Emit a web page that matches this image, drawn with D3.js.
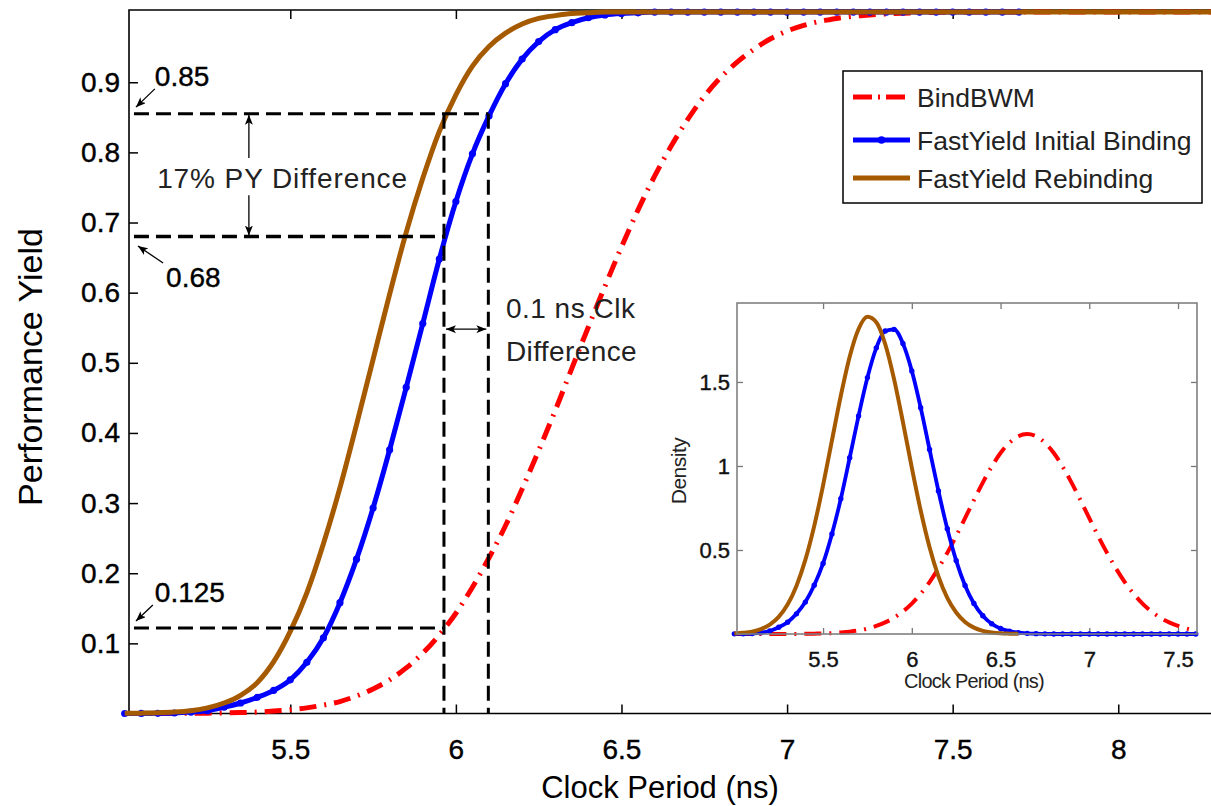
<!DOCTYPE html>
<html><head><meta charset="utf-8">
<script src="https://cdn.jsdelivr.net/npm/d3@7"></script>
<style>
html,body{margin:0;padding:0;background:#fff;}
svg{display:block;}
</style></head><body>
<svg id="chart" width="1211" height="806"></svg>
<script>
// ---------- main plot data (CDF, performance yield) ----------
const mainX = [5.00,5.05,5.10,5.15,5.20,5.25,5.30,5.35,5.40,5.45,5.50,5.55,5.60,5.65,5.70,5.75,5.80,5.85,5.90,5.95,
  6.00,6.05,6.10,6.15,6.20,6.25,6.30,6.35,6.40,6.45,6.50,6.55,6.60,6.65,6.70,6.75,6.80,6.85,6.90,6.95,
  7.00,7.05,7.10,7.15,7.20,7.25,7.30,7.35,7.40,7.45,7.50,7.55,7.60,7.65,7.70,7.75,7.80,7.85,7.90,7.95,
  8.00,8.05,8.10,8.15,8.20,8.25,8.30];
const bindBWM = [0,0,0.0001,0.0002,0.0003,0.0005,0.0008,0.0013,0.0021,0.0034,0.0053,0.008,0.012,0.017,0.025,0.035,0.048,0.065,0.086,0.112,
  0.143,0.180,0.222,0.268,0.320,0.375,0.432,0.492,0.551,0.609,0.665,0.718,0.766,0.809,0.847,0.880,0.907,0.929,0.947,0.962,
  0.973,0.981,0.987,0.991,0.994,0.996,0.9975,0.9985,0.999,0.9995,1,1,1,1,1,1,1,1,1,1,
  1,1,1,1,1,1,1];
const fastInitial = [0,0.0001,0.0003,0.0007,0.002,0.004,0.009,0.015,0.023,0.033,0.048,0.073,0.108,0.158,0.220,0.293,0.376,0.465,0.556,0.648,
  0.730,0.798,0.852,0.898,0.933,0.958,0.975,0.985,0.992,0.996,0.998,0.999,1,1,1,1,1,1,1,1,
  1,1,1,1,1,1,1,1,1,1,1,1,1,1,1,null,null,null,null,null,
  null,null,null,null,null,null,null];
const fastRebinding = [0.0002,0.0005,0.001,0.002,0.004,0.008,0.015,0.026,0.044,0.074,0.117,0.172,0.242,0.322,0.412,0.505,0.598,0.686,0.763,0.830,
  0.882,0.923,0.951,0.970,0.983,0.991,0.995,0.998,0.999,1,1,1,1,1,1,1,1,1,1,1,
  1,1,1,1,1,1,1,1,1,1,1,1,1,1,1,1,1,1,1,1,
  1,1,1,1,1,1,1];
const xTicks = [5.5, 6, 6.5, 7, 7.5, 8];
const yTicks = [0.1, 0.2, 0.3, 0.4, 0.5, 0.6, 0.7, 0.8, 0.9];

// ---------- inset data (density) ----------
const insetX = [5.00,5.05,5.10,5.15,5.20,5.25,5.30,5.35,5.40,5.45,5.50,5.55,5.60,5.65,5.70,5.75,5.80,5.85,5.90,5.95,
  6.00,6.05,6.10,6.15,6.20,6.25,6.30,6.35,6.40,6.45,6.50,6.55,6.60,6.65,6.70,6.75,6.80,6.85,6.90,6.95,
  7.00,7.05,7.10,7.15,7.20,7.25,7.30,7.35,7.40,7.45,7.50,7.55,7.60];
const insetBindBWM = [0,0,0,0,0,0,0,0,0.001,0.002,0.003,0.005,0.009,0.014,0.021,0.032,0.048,0.069,0.097,0.134,
  0.181,0.239,0.309,0.391,0.483,0.583,0.689,0.797,0.901,0.996,1.077,1.138,1.177,1.190,1.177,1.138,1.077,0.996,0.901,0.797,
  0.689,0.583,0.483,0.391,0.309,0.239,0.181,0.134,0.097,0.069,0.048,0.032,0.021];
const insetInitial = [0.001,0.001,0.003,0.008,0.018,0.040,0.070,0.120,0.190,0.290,0.420,0.595,0.805,1.049,1.298,1.526,1.703,1.803,1.813,1.729,
  1.566,1.347,1.098,0.851,0.626,0.437,0.289,0.182,0.109,0.061,0.033,0.017,0.008,0.004,0.002,0.001,0,0,0,0,
  0,0,0,0,0,0,0,0,0,0,0,0,0];
const insetRebinding = [0.003,0.007,0.014,0.029,0.056,0.102,0.175,0.286,0.441,0.642,0.885,1.152,1.418,1.650,1.815,1.888,1.856,1.726,1.517,1.261,
  0.990,0.735,0.516,0.343,0.215,0.128,0.072,0.038,0.019,0.009,0.004,0.002,0.001,null,null,null,null,null,null,null,
  null,null,null,null,null,null,null,null,null,null,null,null,null];
const insetXTicks = [5.5, 6, 6.5, 7, 7.5];
const insetYTicks = [0.5, 1, 1.5];

const seriesNames = ["BindBWM", "FastYield Initial Binding", "FastYield Rebinding"];
const seriesColors = ["#ff0000", "#0000ff", "#a65a00"];

// annotation values
const pyLines = [0.855, 0.68, 0.122];
const pyLabels = ["0.85", "0.68", "0.125"];
const clkLines = [5.964, 6.098];

// ---------- drawing ----------
const svg = d3.select("#chart");
const FONT = "'Liberation Sans', Arial, Helvetica, sans-serif";

const x = d3.scaleLinear([5.013, 8.28], [129, 1211]);
const y = d3.scaleLinear([0, 1.003], [713.5, 10]);

const defs = svg.append("defs");
defs.append("marker").attr("id", "ah").attr("viewBox", "0 0 10 8")
  .attr("refX", 10).attr("refY", 4).attr("markerWidth", 10).attr("markerHeight", 8)
  .attr("markerUnits", "userSpaceOnUse").attr("orient", "auto-start-reverse")
  .append("path").attr("d", "M0,0 L10,4 L0,8 L2.5,4 Z").attr("fill", "#000");

// axes
const gx = svg.append("g").attr("transform", `translate(0,${y(0)})`)
  .call(d3.axisBottom(x).tickValues(xTicks).tickFormat(d3.format("~g")).tickSizeInner(-9).tickSizeOuter(0).tickPadding(26));
const gy = svg.append("g").attr("transform", `translate(${x.range()[0]},0)`)
  .call(d3.axisLeft(y).tickValues(yTicks).tickFormat(d3.format(".1f")).tickSizeInner(-9).tickSizeOuter(0).tickPadding(9));
const gxt = svg.append("g").attr("transform", `translate(0,${y.range()[1]})`)
  .call(d3.axisTop(x).tickValues(xTicks).tickFormat("").tickSizeInner(-9).tickSizeOuter(0));
[gx, gy, gxt].forEach(g => {
  g.select(".domain").remove();
  g.selectAll(".tick line").attr("stroke", "#000").attr("stroke-width", 1.5);
  g.selectAll("text").attr("font-family", FONT).attr("font-size", 28).attr("fill", "#000")
    .attr("stroke", "#000").attr("stroke-width", 0.4);
});
// frame lines
svg.append("path")
  .attr("d", `M${x.range()[1]},${y.range()[1]} H${x.range()[0]} V${y(0)} H${x.range()[1]}`)
  .attr("fill", "none").attr("stroke", "#000").attr("stroke-width", 1.6);

// axis titles
svg.append("text").attr("x", 660).attr("y", 798).attr("text-anchor", "middle")
  .attr("font-family", FONT).attr("font-size", 31).text("Clock Period (ns)");
svg.append("text").attr("transform", "translate(42,367) rotate(-90)").attr("text-anchor", "middle")
  .attr("font-family", FONT).attr("font-size", 34).text("Performance Yield");

// curves
function drawSeries(g, xs, ys, xsc, ysc, i, w, markerR) {
  const pts = xs.map((d, k) => [d, ys[k]]).filter(p => p[1] != null);
  const line = d3.line().x(p => xsc(p[0])).y(p => ysc(p[1])).curve(d3.curveMonotoneX);
  const p = g.append("path").attr("d", line(pts)).attr("fill", "none")
    .attr("stroke", seriesColors[i]).attr("stroke-width", w).attr("stroke-linejoin", "round");
  if (i === 0) p.attr("stroke-dasharray", "17,8,2,8");
  if (i === 1 && markerR) {
    g.append("g").selectAll("circle").data(pts).join("circle")
      .attr("cx", p => xsc(p[0])).attr("cy", p => ysc(p[1])).attr("r", markerR).attr("fill", seriesColors[1]);
  }
}
const gMain = svg.append("g");
drawSeries(gMain, mainX, bindBWM, x, y, 0, 5, 0);
drawSeries(gMain, mainX, fastInitial, x, y, 1, 5, 3.6);
drawSeries(gMain, mainX, fastRebinding, x, y, 2, 5, 0);

// annotations
const gA = svg.append("g");
const dashStyle = s => s.attr("stroke", "#000").attr("stroke-width", 3).attr("stroke-dasharray", "15,7").attr("fill", "none");
gA.append("line").attr("x1", x(5.028)).attr("x2", x(clkLines[1])).attr("y1", y(pyLines[0])).attr("y2", y(pyLines[0])).call(dashStyle);
gA.append("line").attr("x1", x(5.028)).attr("x2", x(clkLines[0])).attr("y1", y(pyLines[1])).attr("y2", y(pyLines[1])).call(dashStyle).attr("stroke-width", 3.6);
gA.append("line").attr("x1", x(5.028)).attr("x2", x(clkLines[0])).attr("y1", y(pyLines[2])).attr("y2", y(pyLines[2])).call(dashStyle);
clkLines.forEach(c => {
  gA.append("line").attr("x1", x(c)).attr("x2", x(c)).attr("y1", y(pyLines[0])).attr("y2", y(0)).call(dashStyle);
});
// value labels with arrows
const labelPos = [[5.091, 0.8946], [5.125, 0.608], [5.091, 0.159]];
const arrowPos = [[[5.091, 0.8905], [5.034, 0.8645]], [[5.116, 0.6423], [5.040, 0.6665]], [[5.085, 0.1547], [5.034, 0.1319]]];
pyLabels.forEach((t, i) => {
  gA.append("text").attr("x", x(labelPos[i][0])).attr("y", y(labelPos[i][1]))
    .attr("font-family", FONT).attr("font-size", 28).attr("stroke", "#000").attr("stroke-width", 0.4).text(t);
  const a = arrowPos[i];
  gA.append("line").attr("x1", x(a[0][0])).attr("y1", y(a[0][1])).attr("x2", x(a[1][0])).attr("y2", y(a[1][1]))
    .attr("stroke", "#000").attr("stroke-width", 1.3).attr("marker-end", "url(#ah)");
});
// PY difference
gA.append("text").attr("x", x(5.098)).attr("y", y(0.749)).attr("font-family", FONT).attr("font-size", 28)
  .attr("letter-spacing", 0.9).attr("fill", "#222").text("17% PY Difference");
gA.append("line").attr("x1", x(5.375)).attr("x2", x(5.375)).attr("y1", y(0.792)).attr("y2", y(pyLines[0]) + 1)
  .attr("stroke", "#000").attr("stroke-width", 1.3).attr("marker-end", "url(#ah)");
gA.append("line").attr("x1", x(5.375)).attr("x2", x(5.375)).attr("y1", y(0.739)).attr("y2", y(pyLines[1]) - 1)
  .attr("stroke", "#000").attr("stroke-width", 1.3).attr("marker-end", "url(#ah)");
// clk difference
gA.append("line").attr("x1", x(clkLines[0]) + 2).attr("x2", x(clkLines[1]) - 2).attr("y1", y(0.548)).attr("y2", y(0.548))
  .attr("stroke", "#000").attr("stroke-width", 1.3).attr("marker-end", "url(#ah)").attr("marker-start", "url(#ah)");
gA.append("text").attr("x", x(6.151)).attr("y", y(0.564)).attr("font-family", FONT).attr("font-size", 28)
  .attr("letter-spacing", 0.5).attr("fill", "#222").text("0.1 ns Clk");
gA.append("text").attr("x", x(6.151)).attr("y", y(0.5026)).attr("font-family", FONT).attr("font-size", 28)
  .attr("letter-spacing", 0.4).attr("fill", "#222").text("Difference");

// legend
const gL = svg.append("g");
gL.append("rect").attr("x", 843).attr("y", 71).attr("width", 359).attr("height", 132)
  .attr("fill", "#fff").attr("stroke", "#000").attr("stroke-width", 1.5);
const legY = [97, 140, 178];
seriesNames.forEach((n, i) => {
  const l = gL.append("line").attr("x1", 853).attr("x2", 910).attr("y1", legY[i]).attr("y2", legY[i])
    .attr("stroke", seriesColors[i]).attr("stroke-width", 5);
  if (i === 0) l.attr("stroke-dasharray", "19,6,2,6");
  if (i === 1) gL.append("circle").attr("cx", 881.5).attr("cy", legY[i]).attr("r", 3.8).attr("fill", seriesColors[1]);
  gL.append("text").attr("x", 917).attr("y", legY[i] + 10).attr("font-family", FONT).attr("font-size", 26.5)
    .attr("fill", "#222").text(n);
});

// ---------- inset ----------
const xi = d3.scaleLinear([5.015, 7.607], [737, 1197]);
const yi = d3.scaleLinear([0, 1.97], [634, 303]);
const gI = svg.append("g");
gI.append("rect").attr("x", xi.range()[0]).attr("y", yi.range()[1])
  .attr("width", xi.range()[1] - xi.range()[0]).attr("height", yi.range()[0] - yi.range()[1])
  .attr("fill", "#fff");
const ix1 = gI.append("g").attr("transform", `translate(0,${yi.range()[0]})`)
  .call(d3.axisBottom(xi).tickValues(insetXTicks).tickFormat(d3.format("~g")).tickSizeInner(-6).tickSizeOuter(0).tickPadding(17));
const ix2 = gI.append("g").attr("transform", `translate(0,${yi.range()[1]})`)
  .call(d3.axisTop(xi).tickValues(insetXTicks).tickFormat("").tickSizeInner(-6).tickSizeOuter(0));
const iy1 = gI.append("g").attr("transform", `translate(${xi.range()[0]},0)`)
  .call(d3.axisLeft(yi).tickValues(insetYTicks).tickFormat(d3.format("~g")).tickSizeInner(-6).tickSizeOuter(0).tickPadding(7));
const iy2 = gI.append("g").attr("transform", `translate(${xi.range()[1]},0)`)
  .call(d3.axisRight(yi).tickValues(insetYTicks).tickFormat("").tickSizeInner(-6).tickSizeOuter(0));
[ix1, ix2, iy1, iy2].forEach(g => {
  g.select(".domain").remove();
  g.selectAll(".tick line").attr("stroke", "#777").attr("stroke-width", 1.3);
  g.selectAll("text").attr("font-family", FONT).attr("font-size", 22).attr("fill", "#111")
    .attr("stroke", "#111").attr("stroke-width", 0.4);
});
drawSeries(gI, insetX, insetBindBWM, xi, yi, 0, 4, 0);
drawSeries(gI, insetX, insetInitial, xi, yi, 1, 3.8, 2.7);
drawSeries(gI, insetX, insetRebinding, xi, yi, 2, 4, 0);
gI.append("rect").attr("x", xi.range()[0]).attr("y", yi.range()[1])
  .attr("width", xi.range()[1] - xi.range()[0]).attr("height", yi.range()[0] - yi.range()[1])
  .attr("fill", "none").attr("stroke", "#808080").attr("stroke-width", 1.6);
gI.append("text").attr("x", 974).attr("y", 688).attr("text-anchor", "middle").attr("font-family", FONT)
  .attr("font-size", 20).attr("letter-spacing", -0.8).attr("fill", "#222").text("Clock Period (ns)");
gI.append("text").attr("transform", "translate(686,471) rotate(-90)").attr("text-anchor", "middle").attr("font-family", FONT)
  .attr("font-size", 21).attr("letter-spacing", -0.5).attr("fill", "#222").text("Density");
</script>
</body></html>
